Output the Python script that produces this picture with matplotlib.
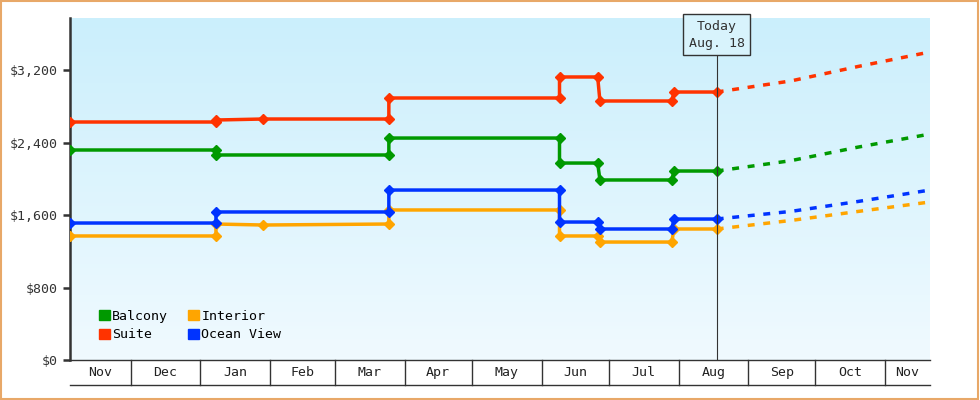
import matplotlib
matplotlib.use("Agg")
import matplotlib.pyplot as plt
import matplotlib.dates as mdates
import matplotlib.patches as mpatches
import numpy as np
from datetime import date

plt.rcParams.update({"font.family": "DejaVu Sans Mono", "font.size": 9.5})

# dados (datas repetidas = degrau)
d_suite = [date(2023, 11, 4), date(2024, 1, 8), date(2024, 1, 8), date(2024, 1, 29),
           date(2024, 3, 25), date(2024, 3, 25), date(2024, 6, 9), date(2024, 6, 9),
           date(2024, 6, 26), date(2024, 6, 27), date(2024, 7, 29), date(2024, 7, 30), date(2024, 8, 18)]
v_suite = [2627, 2627, 2649, 2660, 2660, 2892, 2892, 3124, 3124, 2859, 2859, 2958, 2958]

d_balcony = [date(2023, 11, 4), date(2024, 1, 8), date(2024, 1, 8), date(2024, 3, 25),
             date(2024, 3, 25), date(2024, 6, 9), date(2024, 6, 9), date(2024, 6, 26),
             date(2024, 6, 27), date(2024, 7, 29), date(2024, 7, 30), date(2024, 8, 18)]
v_balcony = [2318, 2318, 2263, 2263, 2450, 2450, 2174, 2174, 1987, 1987, 2086, 2086]

d_ocean = [date(2023, 11, 4), date(2024, 1, 8), date(2024, 1, 8), date(2024, 3, 25),
           date(2024, 3, 25), date(2024, 6, 9), date(2024, 6, 9), date(2024, 6, 26),
           date(2024, 6, 27), date(2024, 7, 29), date(2024, 7, 30), date(2024, 8, 18)]
v_ocean = [1512, 1512, 1634, 1634, 1876, 1876, 1523, 1523, 1446, 1446, 1556, 1556]

d_interior = [date(2023, 11, 4), date(2024, 1, 8), date(2024, 1, 8), date(2024, 1, 29),
              date(2024, 3, 25), date(2024, 3, 25), date(2024, 6, 9), date(2024, 6, 9),
              date(2024, 6, 26), date(2024, 6, 27), date(2024, 7, 29), date(2024, 7, 30), date(2024, 8, 18)]
v_interior = [1369, 1369, 1501, 1490, 1501, 1656, 1656, 1369, 1369, 1302, 1302, 1446, 1446]

# previsão (tracejado)
d_fc = [date(2024, 8, 18), date(2024, 9, 20), date(2024, 10, 20), date(2024, 11, 21)]
fc_suite = [2958, 3080, 3240, 3400]
fc_balcony = [2086, 2200, 2350, 2494]
fc_ocean = [1556, 1640, 1750, 1876]
fc_interior = [1446, 1540, 1640, 1744]

months = ["Nov", "Dec", "Jan", "Feb", "Mar", "Apr", "May", "Jun", "Jul", "Aug", "Sep", "Oct", "Nov"]
month_starts = [date(2023, 11, 1), date(2023, 12, 1), date(2024, 1, 1), date(2024, 2, 1),
                date(2024, 3, 1), date(2024, 4, 1), date(2024, 5, 1), date(2024, 6, 1),
                date(2024, 7, 1), date(2024, 8, 1), date(2024, 9, 1), date(2024, 10, 1),
                date(2024, 11, 1), date(2024, 12, 1)]
today = date(2024, 8, 18)
yticks = [0, 800, 1600, 2400, 3200]

series = [
    ("Balcony", d_balcony, v_balcony, fc_balcony, "#009900"),
    ("Suite", d_suite, v_suite, fc_suite, "#ff3300"),
    ("Interior", d_interior, v_interior, fc_interior, "#ffa500"),
    ("Ocean View", d_ocean, v_ocean, fc_ocean, "#0033ff"),
]

fig = plt.figure(figsize=(9.8, 4.0), dpi=100)
fig.patches.append(mpatches.Rectangle((0.001, 0.002), 0.997, 0.995, transform=fig.transFigure,
                                      fill=False, edgecolor="#e8a868", linewidth=1.5))
ax = fig.add_axes([70 / 980, 40 / 400, 860 / 980, 342 / 400])

x0, x1 = mdates.date2num(date(2023, 11, 4)), mdates.date2num(date(2024, 11, 21))
ymax = 3775
ax.set_xlim(x0, x1)
ax.set_ylim(0, ymax)

# fundo em degradê
grad = np.linspace(0, 1, 100).reshape(-1, 1)
cmap = matplotlib.colors.LinearSegmentedColormap.from_list("bg", ["#f0faff", "#cbeffc"])
ax.imshow(grad, extent=[x0, x1, 0, ymax], origin="lower", aspect="auto", cmap=cmap, zorder=0)

for name, d, v, fc, c in series:
    ax.plot(mdates.date2num(d), v, color=c, linewidth=2.5, marker="D", markersize=5, zorder=3)
    ax.plot(mdates.date2num(d_fc), fc, color=c, linewidth=2.5, linestyle=(0, (2, 2.5)), zorder=3)

# linha "Today"
tx = mdates.date2num(today)
ax.plot([tx, tx], [0, 3440], color="#333333", linewidth=0.8, zorder=4)
ax.text(tx, 3590, "Today\nAug. 18", ha="center", va="center", fontsize=9.5, color="#333333",
        linespacing=1.4, bbox=dict(boxstyle="square,pad=0.4", facecolor="#d8f3fc", edgecolor="#333333"),
        zorder=5)

ax.set_yticks(yticks)
ax.set_yticklabels([f"${v:,}" for v in yticks])
ax.set_xticks([])
for s in ["top", "right", "bottom"]:
    ax.spines[s].set_visible(False)
ax.spines["left"].set_linewidth(1.8)
ax.spines["left"].set_color("#333333")
ax.tick_params(axis="y", length=5, width=1.8, color="#333333", labelcolor="#333333")

# faixa de meses abaixo do eixo
trans = matplotlib.transforms.blended_transform_factory(ax.transData, ax.transAxes)
yb = -25 / 342
ax.plot([x0, x1], [0, 0], transform=trans, color="#333333", linewidth=1, clip_on=False)
ax.plot([x0, x1], [yb, yb], transform=trans, color="#333333", linewidth=1, clip_on=False)
for i, m in enumerate(months):
    a = max(mdates.date2num(month_starts[i]), x0)
    b = min(mdates.date2num(month_starts[i + 1]), x1)
    ax.text((a + b) / 2, yb / 2, m, transform=trans, ha="center", va="center", color="#222222")
    if i > 0:
        ax.plot([a, a], [0, yb], transform=trans, color="#333333", linewidth=1, clip_on=False)

handles = [mpatches.Patch(color=c, label=n) for n, _, _, _, c in series]
ax.legend(handles=handles, ncol=2, loc="lower left", bbox_to_anchor=(0.02, 0.02), frameon=False,
          handlelength=0.8, handleheight=0.8, handletextpad=0.2, columnspacing=1.5, labelspacing=0.4)

fig.savefig("out.png", dpi=100)
